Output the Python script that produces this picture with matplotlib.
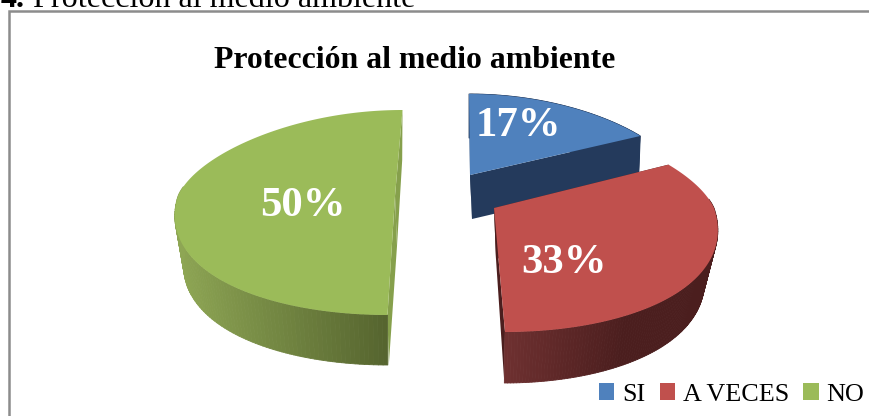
import matplotlib
matplotlib.use("Agg")
import matplotlib.pyplot as plt
import numpy as np
from matplotlib.patches import Polygon, Patch
from matplotlib.collections import PolyCollection
from matplotlib.colors import LinearSegmentedColormap

plt.rcParams['font.family'] = ['Liberation Serif', 'DejaVu Serif']

categories = ["SI", "A VECES", "NO"]
values = [17, 33, 50]
colors = ["#4f81bd", "#c0504d", "#9bbb59"]
title = "Protección al medio ambiente"

# apex x, apex y, rx, ry back, ry front, shear, depth - one per slice
apex_x = [470, 494, 395]
apex_y = [175, 208, 196]
rx = [209, 220, 217]
ry_back = [81, 90, 86]
ry_front = [100, 124, 119]
shear = [-1, -11, 7.5]
depth = [44, 51, 50]
bottom_scale = [0.99, 0.94, 0.96]
side_light = ["#243a5c", "#6e3030", "#8ea654"]
side_dark = ["#243a5c", "#4b1e1e", "#56652f"]
face_col = ["#243a5c", "#4b1e1e", "#86a04c"]
label_xy = [(518, 126), (564, 263), (303, 206)]

fig = plt.figure(figsize=(8.7, 4.16), dpi=100)
ax = fig.add_axes([0, 0, 1, 1])
ax.set_xlim(0, 870)
ax.set_ylim(416, 0)
ax.axis("off")

# header cut off by the top of the page
ax.text(1, 7, "4.", fontsize=23, fontweight="bold", color="black", va="baseline")
ax.text(33, 7, title, fontsize=23.1, color="black", va="baseline")

# chart frame
ax.plot([870, 9.5, 9.5], [11, 11, 416], color="#8c8c8c", lw=1.8, solid_joinstyle="miter")

ax.text(415, 60, title, fontsize=22.9, fontweight="bold", ha="center", va="center")


def rim(i, th):
    u = np.sin(th)
    v = np.cos(th)
    x = apex_x[i] + rx[i] * u * (1 - 0.14 * v) + shear[i] * v
    y = apex_y[i] - np.where(v > 0, ry_back[i], ry_front[i]) * v
    return x, y


def draw_slice(i, th0, th1):
    th = np.linspace(th0, th1, 160)
    x, y = rim(i, th)
    d = depth[i]
    a = (apex_x[i], apex_y[i])
    # lower rim pulls in towards the apex
    xb = a[0] + (x - a[0]) * bottom_scale[i]
    # flat cut faces
    ax.add_patch(Polygon([a, (x[0], y[0]), (xb[0] + 1, y[0] + d), (a[0] + 2, a[1] + d)], fc=face_col[i], ec="none", zorder=2 + i))
    ax.add_patch(Polygon([a, (x[-1], y[-1]), (xb[-1], y[-1] + d), (a[0] + 2, a[1] + d)], fc=face_col[i], ec="none", zorder=2 + i))
    # rim, only the front part shows
    strips = []
    pos = []
    for k in range(len(th) - 1):
        if np.cos(th[k]) < 0.1 or i == 0:
            strips.append([(x[k], y[k]), (x[k + 1], y[k + 1]), (xb[k + 1], y[k + 1] + d), (xb[k], y[k] + d)])
            pos.append(x[k])
    cmap = LinearSegmentedColormap.from_list("s", [side_light[i], side_dark[i]])
    if i == 1:
        norm = (np.array(pos) - np.min(pos)) / 120
    else:
        norm = (np.array(pos) - np.min(pos)) / max(np.ptp(pos), 1)
    if strips:
        ax.add_collection(PolyCollection(strips, facecolors=cmap(np.clip(norm, 0, 1)), edgecolors=cmap(np.clip(norm, 0, 1)), linewidths=0.6, zorder=2 + i))
    # top surface
    pts = [a] + list(zip(x, y))
    ax.add_patch(Polygon(pts, fc=colors[i], ec="none", zorder=2.5 + i))


starts = np.cumsum([0] + values[:-1]) / sum(values) * 2 * np.pi
ends = np.cumsum(values) / sum(values) * 2 * np.pi
for i in [2, 0, 1]:
    draw_slice(i, starts[i], ends[i])
    ax.text(label_xy[i][0], label_xy[i][1], "%d%%" % values[i], color="white", fontsize=30.8,
            fontweight="bold", ha="center", va="center", zorder=10)

handles = [Patch(fc=c, ec="none") for c in colors]
ax.legend(handles, categories, ncol=3, frameon=False, fontsize=18.8, loc="lower right",
          bbox_to_anchor=(0.9995, 0.012), handlelength=0.58, handleheight=0.58, handletextpad=0.3,
          columnspacing=0.55, borderaxespad=0, borderpad=0.2, labelcolor="black")

fig.savefig("out.png", dpi=100)
